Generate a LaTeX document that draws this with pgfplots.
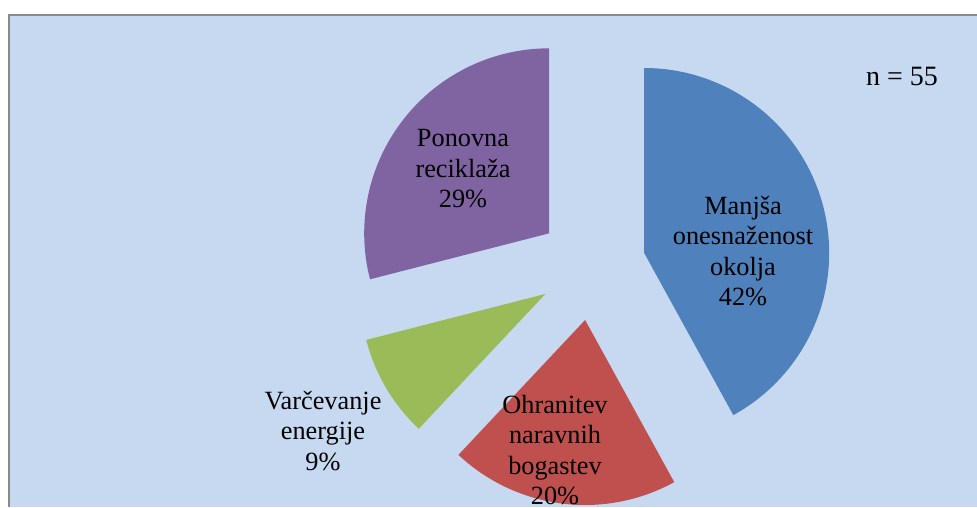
\documentclass[border=0pt]{standalone}
\usepackage{pgfplots}
\pgfplotsset{compat=1.18}
\usepackage{fontspec}
\setmainfont{Liberation Serif}
\definecolor{bgblue}{HTML}{C6D9F1}
\definecolor{sblue}{HTML}{4F81BD}
\definecolor{sred}{HTML}{C0504D}
\definecolor{sgreen}{HTML}{9BBB59}
\definecolor{spurple}{HTML}{8064A2}
\definecolor{bordergray}{HTML}{898989}
\tikzset{lab/.style={font=\fontsize{26.3}{30.5}\selectfont, align=center, text=black}}
% Shares (%): Manjša onesnaženost okolja 42, Ohranitev naravnih bogastev 20,
% Varčevanje energije 9, Ponovna reciklaža 29  (n = 55)
% slice angles: 3.6 deg per percent, clockwise from 90 deg; each slice
% pulled out by 54 px along its mid angle from centre (591.9, 266.4), r = 185
\begin{document}
\begin{tikzpicture}
\begin{axis}[
  scale only axis, width=977pt, height=507pt,
  xmin=0, xmax=977, ymin=0, ymax=507, y dir=reverse,
  hide axis, clip=true,
]
\path (axis cs:0,0) rectangle (axis cs:977,507);
\fill[bgblue] (axis cs:9,15) rectangle (axis cs:977,507);
\draw[bordergray, line width=2pt] (axis cs:9,507) -- (axis cs:9,15) -- (axis cs:977,15);
% Manjša onesnaženost okolja 42%
\addplot[fill=sblue, draw=none, domain=-61.2:90, samples=120, variable=\t]
  ({644.2+185*cos(\t)}, {253.0-185*sin(\t)}) -- (axis cs:644.2,253.0) -- cycle;
% Ohranitev naravnih bogastev 20%
\addplot[fill=sred, draw=none, domain=-133.2:-61.2, samples=80, variable=\t]
  ({585.1+185*cos(\t)}, {320.0-185*sin(\t)}) -- (axis cs:585.1,320.0) -- cycle;
% Varčevanje energije 9%
\addplot[fill=sgreen, draw=none, domain=-165.6:-133.2, samples=40, variable=\t]
  ({545.4+185*cos(\t)}, {293.9-185*sin(\t)}) -- (axis cs:545.4,293.9) -- cycle;
% Ponovna reciklaža 29%
\addplot[fill=spurple, draw=none, domain=90:194.4, samples=100, variable=\t]
  ({549.2+185*cos(\t)}, {233.3-185*sin(\t)}) -- (axis cs:549.2,233.3) -- cycle;
\node[lab] at (axis cs:743,251) {Manjša\\onesnaženost\\okolja\\42\%};
\node[lab] at (axis cs:463,169) {Ponovna\\reciklaža\\29\%};
\node[lab] at (axis cs:323,431) {Varčevanje\\energije\\9\%};
\node[lab] at (axis cs:555,450) {Ohranitev\\naravnih\\bogastev\\20\%};
\node[font=\fontsize{28}{32}\selectfont, anchor=base] at (axis cs:902,85) {n = 55};
\end{axis}
\end{tikzpicture}
\end{document}
